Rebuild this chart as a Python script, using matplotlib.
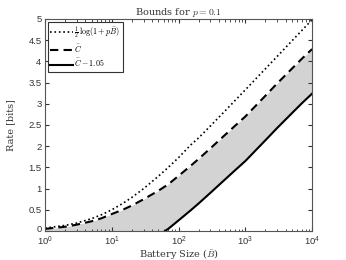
import numpy as np
import matplotlib
matplotlib.use('Agg')
import matplotlib.pyplot as plt
import matplotlib.transforms as mtransforms

# values
battery = [1, 2, 3, 5, 7, 10, 15, 20, 30, 50, 70, 100, 150, 200, 300, 500, 700,
           1000, 2000, 3000, 5000, 7000, 10000]
upper = [0.069, 0.132, 0.189, 0.292, 0.383, 0.5, 0.661, 0.792, 1.0, 1.292, 1.5,
         1.73, 2.02, 2.196, 2.477, 2.836, 3.075, 3.329, 3.826, 4.117, 4.485,
         4.727, 4.983]
cbar = [0.05, 0.10, 0.15, 0.23, 0.30, 0.40, 0.51, 0.60, 0.75, 0.95, 1.10, 1.30,
        1.53, 1.70, 1.95, 2.27, 2.48, 2.70, 3.19, 3.48, 3.83, 4.06, 4.29]
gap = 1.05
yticks = [0, 0.5, 1, 1.5, 2, 2.5, 3, 3.5, 4, 4.5, 5]
ytick_labels = ['0', '0.5', '1', '1.5', '2', '2.5', '3', '3.5', '4', '4.5', '5']

plt.rcParams['mathtext.fontset'] = 'cm'
serif = {'family': 'DejaVu Serif', 'size': 7, 'color': '#333333'}

B = np.array(battery)
C = np.array(cbar)
lower = C - gap

fig = plt.figure(figsize=(3.46, 2.6), dpi=100)
ax = fig.add_axes([0.130, 0.1115, 0.772, 0.8155])

ax.fill_between(B, np.maximum(lower, 0), C, color='#d3d3d3', linewidth=0)
ax.plot(B, upper, color='black', linestyle=':', linewidth=1.2,
        label=r'$\frac{1}{2}\,\log(1+p\bar{B})$')
ax.plot(B, C, color='black', linestyle=(0, (4, 2.5)), linewidth=1.5,
        label=r'$\bar{C}$')
ax.plot(B, lower, color='black', linestyle='-', linewidth=1.5,
        label=r'$\bar{C}-1.05$')

ax.set_xscale('log')
ax.set_xlim(1, 1e4)
ax.set_ylim(0, 5)
ax.set_yticks(yticks)
ax.set_yticklabels(ytick_labels)

ax.tick_params(which='both', direction='in', top=True, right=True,
               labelsize=6.8, colors='#333333', labelcolor='#333333')
ax.tick_params(axis='x', pad=2.5)
ax.tick_params(axis='y', pad=2.5)
ax.tick_params(which='major', length=3)
ax.tick_params(which='minor', length=1.8)
for lbl in ax.get_xticklabels() + ax.get_yticklabels():
    lbl.set_family('Liberation Sans')
for sp in ax.spines.values():
    sp.set_color('#555555')
    sp.set_linewidth(0.8)

# lift the "0" label a hair so it clears the 10^0 label
zero_lbl = ax.yaxis.get_major_ticks()[0].label1
zero_lbl.set_transform(zero_lbl.get_transform() +
                       mtransforms.ScaledTranslation(0, 1.5 / 72, fig.dpi_scale_trans))

ax.set_title(r'Bounds for $p = 0.1$', fontdict=serif, pad=3)
ax.set_xlabel(r'Battery Size ($\bar{B}$)', fontdict=serif)
ax.xaxis.set_label_coords(0.5, -0.075)
ax.set_ylabel('Rate [bits]', fontdict=serif, labelpad=9)

leg = ax.legend(loc='upper left', fontsize=5.8, fancybox=False,
                edgecolor='#333333', framealpha=1, handlelength=2.8,
                handletextpad=0.2, borderpad=0.3, labelspacing=0.25,
                borderaxespad=0.35)
leg.get_frame().set_linewidth(0.8)

fig.savefig('out.png', dpi=100)
